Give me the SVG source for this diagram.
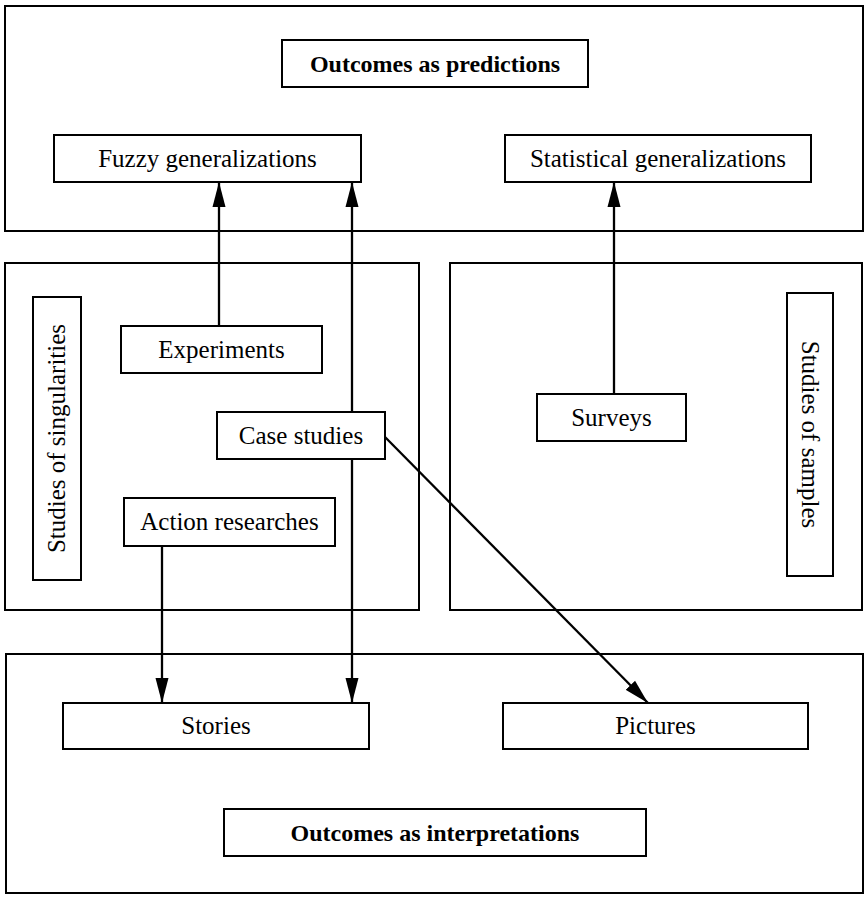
<svg xmlns="http://www.w3.org/2000/svg" width="865" height="897" viewBox="0 0 865 897">
<style>
.frame{fill:none;stroke:#000;stroke-width:2}
.box{fill:#fff;stroke:#000;stroke-width:2}
.t{font-family:"Liberation Serif","Times New Roman",serif;font-size:25px;fill:#000;text-anchor:middle}
.b{font-weight:bold;font-size:24px}
.c{stroke:#000;stroke-width:2.3;fill:none;marker-end:url(#ah)}
</style>
<defs>
<marker id="ah" markerUnits="userSpaceOnUse" markerWidth="26" markerHeight="14" refX="25" refY="7" orient="auto">
<path d="M0,0.5 L25,7 L0,13.5 Z" fill="#000"/>
</marker>
</defs>
<rect width="865" height="897" fill="#fff"/>
<g id="region-predictions"><rect class="frame" x="5" y="6" width="858" height="225"/></g>
<g id="region-singularities"><rect class="frame" x="5" y="263" width="414" height="347"/></g>
<g id="region-samples"><rect class="frame" x="450" y="263" width="412" height="347"/></g>
<g id="region-interpretations"><rect class="frame" x="6" y="654" width="857" height="239"/></g>

<g id="connectors">
<line class="c" x1="219" y1="326" x2="219" y2="182"/>
<line class="c" x1="352" y1="412" x2="352" y2="182"/>
<line class="c" x1="614" y1="394" x2="614" y2="182"/>
<line class="c" x1="162" y1="546" x2="162" y2="703"/>
<line class="c" x1="352" y1="459" x2="352" y2="703"/>
<line class="c" x1="385" y1="437" x2="648" y2="703"/>
</g>

<g id="outcomes-predictions"><rect class="box" x="282" y="40" width="306" height="47"/><text class="t b" x="435" y="71.5">Outcomes as predictions</text></g>
<g id="fuzzy"><rect class="box" x="54" y="135" width="307" height="47"/><text class="t" x="207.5" y="166.5">Fuzzy generalizations</text></g>
<g id="statistical"><rect class="box" x="505" y="135" width="306" height="47"/><text class="t" x="658" y="166.5">Statistical generalizations</text></g>
<g id="singularities-label"><rect class="box" x="33" y="297" width="48" height="283"/><text class="t" transform="translate(65,438.5) rotate(-90)" x="0" y="0">Studies of singularities</text></g>
<g id="experiments"><rect class="box" x="121" y="326" width="201" height="47"/><text class="t" x="221.5" y="357.5">Experiments</text></g>
<g id="case-studies"><rect class="box" x="217" y="412" width="168" height="47"/><text class="t" x="301" y="443.5">Case studies</text></g>
<g id="action"><rect class="box" x="124" y="498" width="211" height="48"/><text class="t" x="229.5" y="530">Action researches</text></g>
<g id="surveys"><rect class="box" x="537" y="394" width="149" height="47"/><text class="t" x="611.5" y="425.5">Surveys</text></g>
<g id="samples-label"><rect class="box" x="787" y="293" width="46" height="283"/><text class="t" transform="translate(802,434.5) rotate(90)" x="0" y="0">Studies of samples</text></g>
<g id="stories"><rect class="box" x="63" y="703" width="306" height="46"/><text class="t" x="216" y="734">Stories</text></g>
<g id="pictures"><rect class="box" x="503" y="703" width="305" height="46"/><text class="t" x="655.5" y="734">Pictures</text></g>
<g id="outcomes-interpretations"><rect class="box" x="224" y="809" width="422" height="47"/><text class="t b" x="435" y="840.5">Outcomes as interpretations</text></g>
</svg>
